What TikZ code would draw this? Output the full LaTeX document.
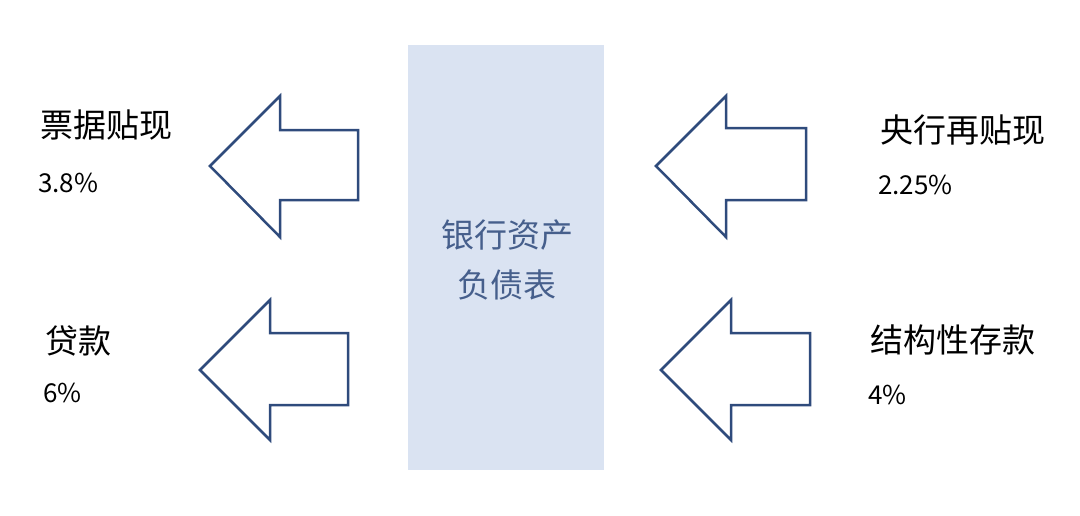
\documentclass[tikz,border=0pt]{standalone}
\usepackage{fontspec}
\setmainfont{Noto Sans CJK SC}
\definecolor{arrowblue}{RGB}{47,75,124}
\definecolor{boxfill}{RGB}{218,227,242}
\definecolor{boxtext}{RGB}{70,95,140}
\tikzset{
  blockarrow/.style={draw=arrowblue,line width=2.5pt,line join=miter},
  label/.style={anchor=north west,inner sep=0pt,align=left,font=\fontsize{33}{38}\selectfont,text=black},
  value/.style={anchor=north west,inner sep=0pt,font=\fontsize{26}{30}\selectfont,text=black}
}
\begin{document}
\begin{tikzpicture}[x=1pt,y=-1pt]
  \useasboundingbox (0,0) rectangle (1080,515);
  %Shape: balance sheet box
  \fill[boxfill] (408,45) rectangle (604,470);
  \node (sheet) at (507,260) [align=center,text=boxtext,font=\fontsize{33}{50}\selectfont] {银行资产\\负债表};
  %Block arrows
  \draw[blockarrow] (210,166) -- (280,96) -- (280,130) -- (358,130) -- (358,200) -- (280,200) -- (280,237) -- cycle;
  \draw[blockarrow] (200,370) -- (270,300) -- (270,333) -- (348,333) -- (348,405) -- (270,405) -- (270,440) -- cycle;
  \draw[blockarrow] (656,166) -- (726,96) -- (726,128) -- (806,128) -- (806,200) -- (726,200) -- (726,237) -- cycle;
  \draw[blockarrow] (661,370) -- (731,300) -- (731,333) -- (810,333) -- (810,405) -- (731,405) -- (731,440) -- cycle;
  % Text Nodes
  \node (discount) at (40,110) [label] {票据贴现};
  \node (discountrate) at (38,173) [value] {3.8\%};
  \node (loan) at (45,325) [label] {贷款};
  \node (loanrate) at (43,383) [value] {6\%};
  \node (rediscount) at (880,115) [label] {央行再贴现};
  \node (rediscountrate) at (878,175) [value] {2.25\%};
  \node (deposit) at (870,325) [label] {结构性存款};
  \node (depositrate) at (868,385) [value] {4\%};
\end{tikzpicture}
\end{document}
